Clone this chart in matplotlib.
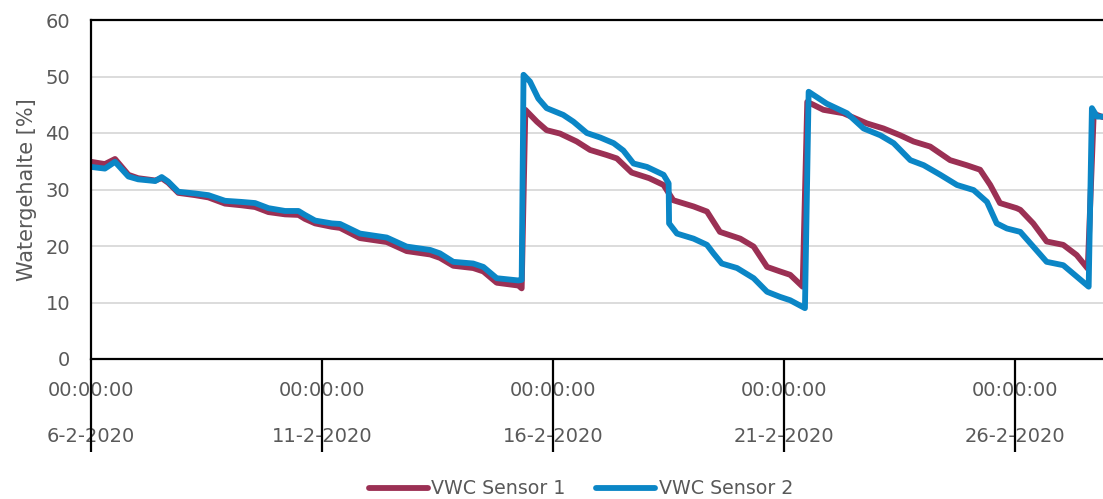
import matplotlib
matplotlib.use("Agg")
import matplotlib.pyplot as plt
import pandas as pd

# days since 6-2-2020 00:00 and volumetric water content (%)
s1_days = [0.0, 0.30, 0.52, 0.81, 1.02, 1.39, 1.53, 1.67, 1.89, 2.25, 2.54, 2.90, 3.26, 3.55,
           3.84, 4.20, 4.49, 4.63, 4.85, 5.21, 5.39, 5.82, 6.40, 6.83, 7.34, 7.55, 7.84, 8.27,
           8.49, 8.78, 9.25, 9.32, 9.40, 9.65, 9.86, 10.15, 10.51, 10.80, 11.16, 11.38, 11.70,
           12.08, 12.39, 12.60, 13.04, 13.33, 13.61, 14.05, 14.34, 14.63, 14.91, 15.13, 15.40,
           15.50, 15.63, 15.85, 16.28, 16.79, 17.15, 17.51, 17.80, 18.16, 18.59, 18.95, 19.24,
           19.46, 19.67, 20.03, 20.11, 20.39, 20.68, 21.04, 21.33, 21.57, 21.70, 21.77, 21.90]
s1_vwc = [34.9, 34.5, 35.4, 32.6, 32.0, 31.6, 32.0, 31.2, 29.4, 29.0, 28.6, 27.5, 27.2, 26.9,
          26.0, 25.6, 25.5, 24.8, 24.0, 23.4, 23.2, 21.4, 20.7, 19.1, 18.5, 17.9, 16.5, 16.1,
          15.5, 13.5, 13.0, 12.5, 44.1, 42.0, 40.5, 39.9, 38.5, 37.0, 36.1, 35.5, 33.0,
          32.0, 30.8, 28.1, 27.0, 26.1, 22.5, 21.3, 19.9, 16.3, 15.5, 14.9, 12.8,
          45.5, 45.0, 44.1, 43.5, 41.7, 40.8, 39.6, 38.5, 37.6, 35.2, 34.3, 33.5,
          30.8, 27.6, 26.7, 26.4, 24.0, 20.8, 20.2, 18.4, 16.0, 43.5, 43.2, 42.8]

s2_days = [0.0, 0.30, 0.52, 0.81, 1.02, 1.39, 1.53, 1.67, 1.89, 2.25, 2.54, 2.90, 3.26, 3.55,
           3.84, 4.20, 4.49, 4.63, 4.85, 5.21, 5.39, 5.82, 6.40, 6.83, 7.34, 7.55, 7.84, 8.27,
           8.49, 8.78, 9.25, 9.32, 9.36, 9.50, 9.68, 9.86, 10.22, 10.44, 10.73, 11.02, 11.31,
           11.52, 11.74, 12.03, 12.39, 12.50, 12.51, 12.68, 13.04, 13.33, 13.47, 13.65, 13.98,
           14.34, 14.63, 14.91, 15.13, 15.45, 15.53, 15.92, 16.36, 16.72, 17.08, 17.37, 17.73,
           18.02, 18.38, 18.74, 19.10, 19.39, 19.60, 19.82, 20.11, 20.39, 20.68, 21.04, 21.33,
           21.59, 21.66, 21.77, 21.90]
s2_vwc = [34.0, 33.7, 34.9, 32.3, 31.8, 31.5, 32.2, 31.4, 29.6, 29.3, 29.0, 28.0, 27.8, 27.6,
          26.7, 26.2, 26.2, 25.5, 24.5, 24.0, 23.9, 22.2, 21.5, 19.9, 19.3, 18.7, 17.2, 16.9,
          16.3, 14.3, 13.9, 14.0, 50.3, 49.1, 46.1, 44.4, 43.2, 42.0, 40.0, 39.2, 38.2,
          36.9, 34.6, 34.0, 32.6, 31.1, 24.0, 22.2, 21.3, 20.2, 18.7, 16.9, 16.1,
          14.3, 11.9, 11.0, 10.4, 9.0, 47.3, 45.2, 43.5, 40.8, 39.6, 38.2, 35.2,
          34.3, 32.6, 30.8, 29.9, 27.8, 24.0, 23.1, 22.5, 19.9, 17.2, 16.6, 14.6,
          12.8, 44.4, 42.9, 42.9]

start = pd.Timestamp("2020-02-06 00:00:00")
tick_days = [0, 5, 10, 15, 20]
x_end_days = 21.9

s1_time = start + pd.to_timedelta(s1_days, unit="D")
s2_time = start + pd.to_timedelta(s2_days, unit="D")

MAROON = "#9b3054"
BLUE = "#0b86c6"
TEXT = "#595959"

plt.rcParams["font.family"] = "DejaVu Sans"

fig = plt.figure(figsize=(11.03, 4.99), dpi=100)
ax = fig.add_axes([91 / 1103, 1 - 359 / 499, 1 - 91 / 1103, 339 / 499])

ax.plot(s1_time, s1_vwc, color=MAROON, linewidth=4.2, label="VWC Sensor 1",
        solid_joinstyle="round", solid_capstyle="round")
ax.plot(s2_time, s2_vwc, color=BLUE, linewidth=4.2, label="VWC Sensor 2",
        solid_joinstyle="round", solid_capstyle="round")

ax.set_xlim(start, start + pd.Timedelta(days=x_end_days))
ax.set_ylim(0, 60)
ax.set_yticks(range(0, 61, 10))
ax.grid(True, axis="y", color="#d9d9d9", linewidth=1.3)
ax.set_axisbelow(True)

for side in ["left", "top", "bottom"]:
    ax.spines[side].set_color("black")
    ax.spines[side].set_linewidth(1.6)
ax.spines["right"].set_visible(False)

# date/time tick labels, long tick lines drawn as minor ticks at the same spots
ticks = [start + pd.Timedelta(days=d) for d in tick_days]
labels = [f"00:00:00\n\n{t.day}-{t.month}-{t.year}" for t in ticks]
ax.set_xticks(ticks)
ax.set_xticklabels(labels, linespacing=1.25)
ax.xaxis.remove_overlapping_locs = False
ax.set_xticks(ticks, minor=True)
ax.tick_params(axis="x", which="major", length=0, pad=16, labelsize=14, labelcolor=TEXT)
ax.tick_params(axis="x", which="minor", length=67, width=1.6, color="black", direction="out")
ax.tick_params(axis="y", length=0, pad=15, labelsize=14, labelcolor=TEXT)

ax.set_ylabel("Watergehalte [%]", fontsize=15, color=TEXT, labelpad=6)

fig.legend(loc="center", bbox_to_anchor=(581 / 1103, 1 - 489 / 499), ncol=2, frameon=False,
           fontsize=13.7, labelcolor=TEXT, handlelength=3.1, columnspacing=1.6, handletextpad=0.2)

fig.savefig("out.png", dpi=100)
